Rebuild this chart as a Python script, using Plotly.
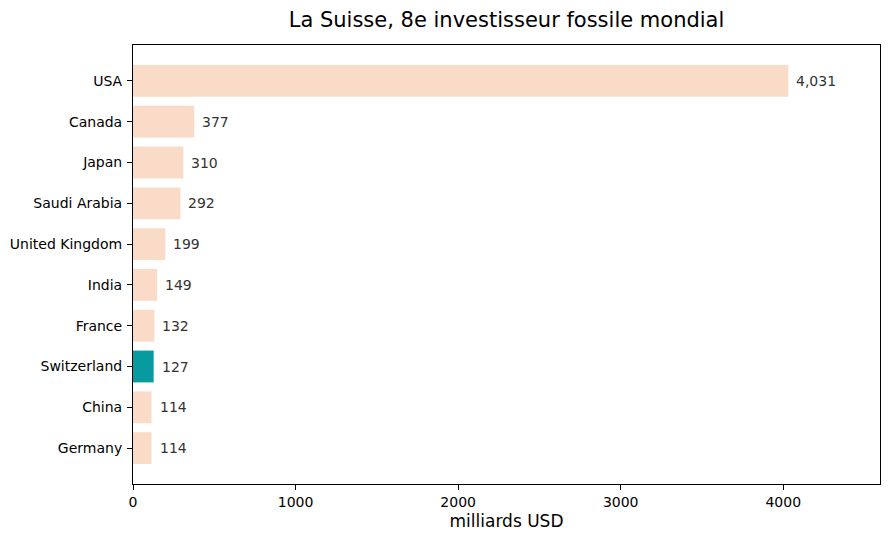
import plotly.graph_objects as go

countries = ["USA", "Canada", "Japan", "Saudi Arabia", "United Kingdom",
             "India", "France", "Switzerland", "China", "Germany"]
values = [4031, 377, 310, 292, 199, 149, 132, 127, 114, 114]
highlight = "Switzerland"

peach = "#FADBC8"
teal = "#079A9E"

# bottom-up order so Germany sits at the bottom
ys = countries[::-1]
xs = values[::-1]
colors = [teal if c == highlight else peach for c in ys]

fig = go.Figure()
fig.add_trace(go.Bar(
    x=xs, y=ys, orientation="h",
    marker=dict(color=colors, line=dict(width=0)),
    width=0.78,
    hoverinfo="x+y",
))

for c, v in zip(ys, xs):
    fig.add_annotation(
        x=v, y=c, text=f"{v:,}", showarrow=False,
        xanchor="left", xshift=6,
        font=dict(size=14, color="#333333"),
    )

# page body has an 8px margin, so the figure is a bit smaller than the window
fig.update_layout(
    width=882, height=532,
    margin=dict(l=125, r=10, t=37, b=56),
    paper_bgcolor="white", plot_bgcolor="white",
    font=dict(family="DejaVu Sans", size=14, color="black"),
    title=dict(text="La Suisse, 8e investisseur fossile mondial",
               xref="paper", x=0.5, xanchor="center",
               y=0.979, yanchor="middle",
               font=dict(size=21)),
    showlegend=False,
)
fig.update_xaxes(
    range=[0, 4595], tickvals=[0, 1000, 2000, 3000, 4000],
    showgrid=False, zeroline=False,
    showline=True, linecolor="black", linewidth=1, mirror=True,
    ticks="outside", ticklen=5, tickcolor="black",
    title=dict(text="milliards USD", font=dict(size=17), standoff=6),
    automargin=False,
)
fig.update_yaxes(
    range=[-0.88, 9.88], type="category",
    showgrid=False, zeroline=False,
    showline=True, linecolor="black", linewidth=1, mirror=True,
    ticks="outside", ticklen=5, tickcolor="black",
    ticklabelstandoff=2, automargin=False,
)

fig.write_html("out.html")
